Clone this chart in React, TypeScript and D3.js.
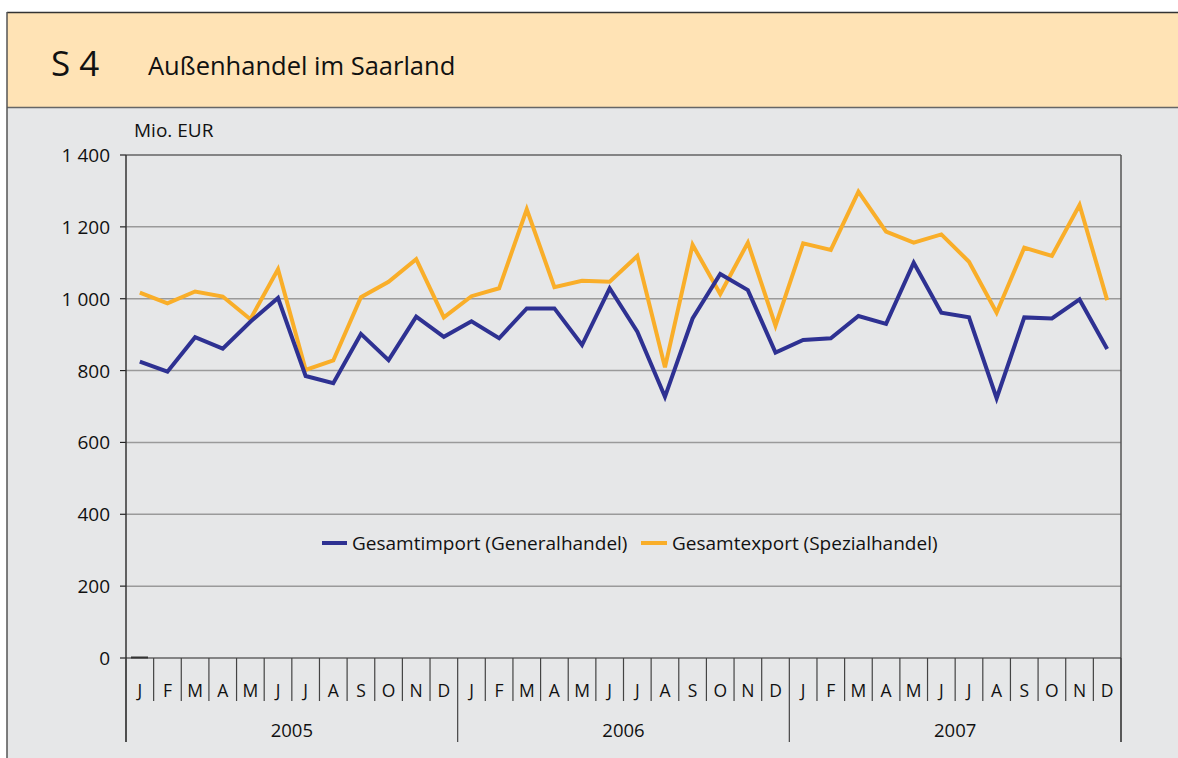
import React from "react";
import * as d3 from "d3";

const years = ["2005", "2006", "2007"];
const monthLabels = ["J", "F", "M", "A", "M", "J", "J", "A", "S", "O", "N", "D"];
const yTicks = [0, 200, 400, 600, 800, 1000, 1200, 1400];

const importValues = [
  825, 797, 893, 861, 936, 1002, 785, 765, 902, 829, 950, 894,
  937, 890, 973, 973, 871, 1029, 908, 727, 945, 1069, 1024, 850,
  885, 890, 952, 930, 1100, 961, 948, 723, 948, 945, 998, 860,
];
const exportValues = [
  1017, 987, 1020, 1006, 943, 1082, 802, 828, 1004, 1047, 1110, 948,
  1007, 1029, 1249, 1032, 1050, 1047, 1119, 809, 1150, 1013, 1156, 925,
  1154, 1136, 1298, 1187, 1156, 1179, 1103, 961, 1142, 1119, 1261, 996,
];

const W = 1178;
const H = 758;
const FONT = "'Open Sans', 'Noto Sans', sans-serif";
const BLUE = "#2E3192";
const ORANGE = "#F9AE29";

export default function App() {
  const left = 126;
  const right = 1121;
  const top = 155;
  const bottom = 658;

  const n = years.length * 12;
  const x = d3.scaleLinear().domain([0, n]).range([left, right]);
  const y = d3.scaleLinear().domain([0, 1400]).range([bottom, top]);

  const line = d3
    .line<number>()
    .x((_, i) => x(i + 0.5))
    .y((d) => y(d));

  const fmt = (v: number) => d3.format(",")(v).replace(/,/g, " ");

  return (
    <svg width={W} height={H} style={{ position: "absolute", left: 0, top: 0 }}>
      <rect x={0} y={0} width={W} height={H} fill="#ffffff" />
      {/* header */}
      <rect x={7} y={12.5} width={W} height={95} fill="#FFE3B5" />
      <line x1={7} x2={W} y1={12.5} y2={12.5} stroke="#333" strokeWidth={1.5} />
      <rect x={7} y={108} width={W} height={H} fill="#E6E7E8" />
      <line x1={7} x2={W} y1={107.5} y2={107.5} stroke="#666" strokeWidth={1.5} />
      <line x1={7} x2={7} y1={12} y2={H} stroke="#555" strokeWidth={1.5} />
      <text x={51} y={76} fontFamily={FONT} fontSize={35} fill="#111">S 4</text>
      <text x={148} y={75} fontFamily={FONT} fontSize={25.5} fill="#111">Außenhandel im Saarland</text>

      {/* unit */}
      <text x={134} y={137} fontFamily={FONT} fontSize={19} fill="#111">Mio. EUR</text>

      {/* grid */}
      {yTicks.map((t) => (
        <g key={t}>
          {t > 0 && t < 1400 && (
            <line x1={left} x2={right} y1={y(t)} y2={y(t)} stroke="#9a9a9a" strokeWidth={1.5} />
          )}
          <line x1={left - 6} x2={left} y1={y(t)} y2={y(t)} stroke="#222" strokeWidth={1.2} />
          <text
            x={110}
            y={y(t) + 7}
            textAnchor="end"
            fontFamily={FONT}
            fontSize={19}
            fill="#111"
          >
            {fmt(t)}
          </text>
        </g>
      ))}

      {/* plot frame */}
      <line x1={left} x2={right} y1={top} y2={top} stroke="#222" strokeWidth={1.2} />
      <line x1={right} x2={right} y1={top} y2={742} stroke="#555" strokeWidth={1.5} />
      <line x1={left} x2={left} y1={top} y2={742} stroke="#333" strokeWidth={1.5} />
      <line x1={left} x2={right} y1={bottom} y2={bottom} stroke="#222" strokeWidth={1.2} />
      <line x1={131} x2={148} y1={bottom - 0.5} y2={bottom - 0.5} stroke="#333" strokeWidth={2} />

      {/* month ticks and labels */}
      {d3.range(n + 1).map((i) => (
        <line
          key={"t" + i}
          x1={x(i)}
          x2={x(i)}
          y1={bottom}
          y2={i % 12 === 0 ? 742 : 701}
          stroke="#444"
          strokeWidth={1.2}
        />
      ))}
      {d3.range(n).map((i) => (
        <text
          key={"m" + i}
          x={x(i + 0.5)}
          y={697}
          textAnchor="middle"
          fontFamily={FONT}
          fontSize={17.5}
          fill="#111"
        >
          {monthLabels[i % 12]}
        </text>
      ))}
      {years.map((yr, k) => (
        <text
          key={yr}
          x={x(k * 12 + 6)}
          y={737}
          textAnchor="middle"
          fontFamily={FONT}
          fontSize={18.5}
          fill="#111"
        >
          {yr}
        </text>
      ))}

      {/* lines */}
      <path d={line(exportValues) || ""} fill="none" stroke={ORANGE} strokeWidth={4} strokeLinejoin="miter" />
      <path d={line(importValues) || ""} fill="none" stroke={BLUE} strokeWidth={4} strokeLinejoin="miter" />

      {/* legend */}
      <line x1={322} x2={347} y1={543} y2={543} stroke={BLUE} strokeWidth={4} />
      <text x={352} y={550} fontFamily={FONT} fontSize={19} fill="#111">Gesamtimport (Generalhandel)</text>
      <line x1={641} x2={667} y1={543} y2={543} stroke={ORANGE} strokeWidth={4} />
      <text x={672} y={550} fontFamily={FONT} fontSize={19} fill="#111">Gesamtexport (Spezialhandel)</text>
    </svg>
  );
}
